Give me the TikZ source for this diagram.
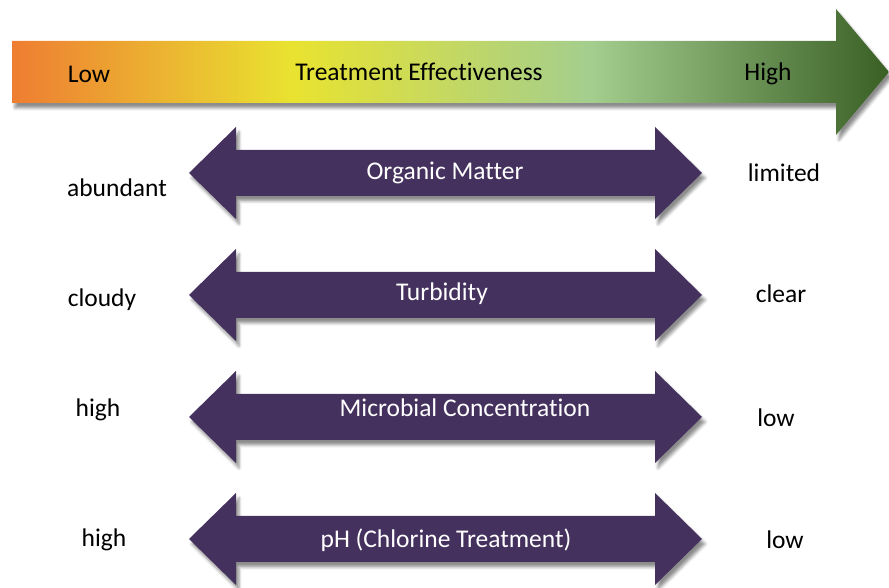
\documentclass[tikz,border=0pt]{standalone}
\usepackage{fontspec}
\setmainfont{Carlito}[Ligatures=NoCommon]
\usetikzlibrary{shadows.blur}
\definecolor{orng}{RGB}{238,125,50}
\definecolor{yel}{RGB}{233,227,48}
\definecolor{lgrn}{RGB}{163,206,142}
\definecolor{dgrn}{RGB}{58,95,37}
\definecolor{purp}{RGB}{69,49,94}
\pgfdeclarehorizontalshading{effect}{100bp}{color(0bp)=(orng); color(25bp)=(orng); color(41bp)=(yel); color(58bp)=(lgrn); color(75bp)=(dgrn); color(100bp)=(dgrn)}
\tikzset{
  shad/.style={blur shadow={shadow xshift=3pt, shadow yshift=-5pt, shadow blur radius=3pt, shadow opacity=45}},
  arr/.style={fill=purp, shad},
  arrtext/.style={text=white, font=\fontsize{25.5}{30}\selectfont, inner sep=0pt},
  side/.style={text=black, font=\fontsize{25.5}{30}\selectfont, inner sep=0pt},
}
\newcommand\dblarr[1]{%
  \fill[arr] (189,#1) -- (236,#1+46) -- (236,#1+23) -- (655,#1+23) -- (655,#1+46) -- (702,#1) -- (655,#1-46) -- (655,#1-23) -- (236,#1-23) -- (236,#1-46) -- cycle;}
\begin{document}
\begin{tikzpicture}[x=1pt,y=1pt]
\useasboundingbox (0,0) rectangle (889,588);
% top arrow
\shade[shading=effect, shad] (12,547) -- (836,547) -- (836,579) -- (889,516) -- (836,453) -- (836,485) -- (12,485) -- cycle;
\node[side] (low) at (89,514) {Low};
\node[side] (te) at (419,516) {Treatment Effectiveness};
\node[side] (high) at (768,514) {High};
% double arrows
\dblarr{415}
\node[arrtext] (om) at (445,415) {Organic Matter};
\dblarr{293}
\node[arrtext] (tu) at (442,294) {Turbidity};
\dblarr{171}
\node[arrtext] (mc) at (465,180) {Microbial Concentration};
\dblarr{49}
\node[arrtext] (ph) at (446,48) {pH (Chlorine Treatment)};
% side labels
\node[side] (l1) at (117,400) {abundant};
\node[side] (r1) at (784,415) {limited};
\node[side] (l2) at (102,288) {cloudy};
\node[side] (r2) at (781,294) {clear};
\node[side] (l3) at (98,178) {high};
\node[side] (r3) at (776,170) {low};
\node[side] (l4) at (104,48) {high};
\node[side] (r4) at (785,48) {low};
\end{tikzpicture}
\end{document}
